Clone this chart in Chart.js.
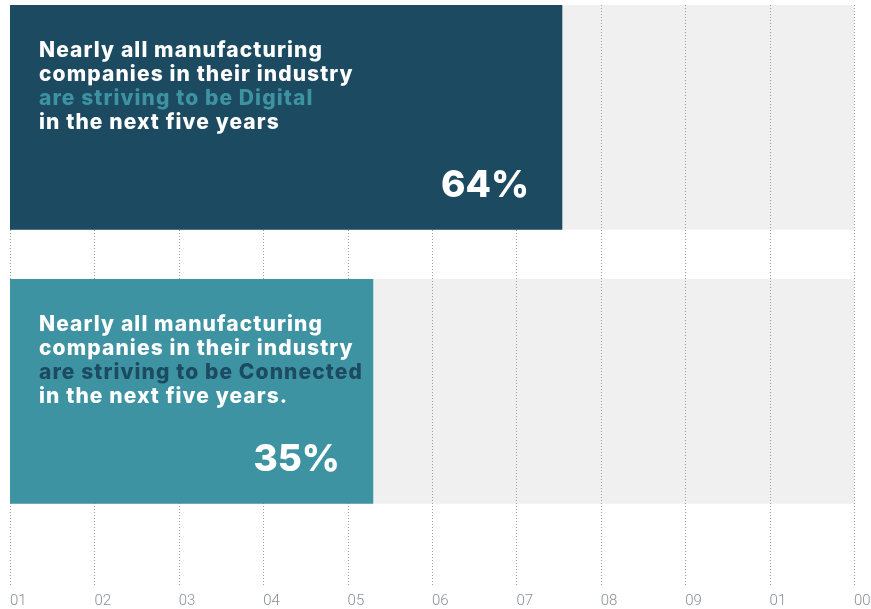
<!DOCTYPE html>
<html>
<head>
<meta charset="utf-8">
<script src="https://cdn.jsdelivr.net/npm/chart.js@4"></script>
<style>
  html, body { margin: 0; padding: 0; background: #ffffff; }
  #wrap { width: 871px; height: 609px; position: relative; }
</style>
</head>
<body>
<div id="wrap"><canvas id="chart"></canvas></div>
<script>
const categories = ["Digital", "Connected"];
const barValues = [6.54, 4.3];
const trackValues = [10, 10];
const percentLabels = ["64%", "35%"];
const tickLabels = ["01", "02", "03", "04", "05", "06", "07", "08", "09", "01", "00"];

const captionLines = [
    ["Nearly all manufacturing", "companies in their industry", "are striving to be Digital", "in the next five years"],
    ["Nearly all manufacturing", "companies in their industry", "are striving to be Connected", "in the next five years."],
];
const highlightLine = 2;

const BAR_COLORS = ["#1b4a61", "#3e93a3"];
const HIGHLIGHT_COLORS = ["#3e93a3", "#1b4a61"];
const TRACK_COLOR = "#f0f0f0";
const GRID_COLOR = "#9c9c9c";
const TEXT_FONT = "Inter";

// dotted grid goes over the grey track but under the coloured bars
const gridLayer = {
    id: "gridLayer",
    afterDatasetDraw(chart, args) {
        if (args.index !== 1) {
            return;
        }
        const { ctx, chartArea, scales } = chart;
        const xScale = scales.x;
        ctx.save();
        ctx.strokeStyle = GRID_COLOR;
        ctx.lineWidth = 1;
        ctx.setLineDash([1, 2]);
        xScale.ticks.forEach((tick, i) => {
            const px = Math.round(xScale.getPixelForTick(i)) + 0.5;
            ctx.beginPath();
            ctx.moveTo(px, chartArea.top);
            ctx.lineTo(px, chartArea.bottom);
            ctx.stroke();
        });
        ctx.restore();
    },
};

const barText = {
    id: "barText",
    afterDatasetsDraw(chart) {
        const { ctx } = chart;
        const meta = chart.getDatasetMeta(0);
        meta.data.forEach((bar, i) => {
            const top = bar.y - bar.height / 2;
            const left = Math.min(bar.base, bar.x);
            const right = Math.max(bar.base, bar.x);

            ctx.save();
            ctx.textAlign = "left";
            ctx.textBaseline = "alphabetic";
            ctx.font = `800 21px ${TEXT_FONT}`;
            ctx.letterSpacing = "1.1px";
            captionLines[i].forEach((line, j) => {
                ctx.fillStyle = j === highlightLine ? HIGHLIGHT_COLORS[i] : "#ffffff";
                ctx.fillText(line, left + 29, top + 52 + j * 24);
            });

            ctx.font = `800 37px ${TEXT_FONT}`;
            ctx.letterSpacing = "0px";
            ctx.fillStyle = "#ffffff";
            ctx.textAlign = "right";
            ctx.fillText(percentLabels[i], right - 33, top + 192);
            ctx.restore();
        });
    },
};

new Chart(document.getElementById("chart"), {
    type: "bar",
    data: {
        datasets: [
            {
                label: "Share",
                data: categories.map((c, i) => ({ x: barValues[i], y: i })),
                backgroundColor: BAR_COLORS,
                borderWidth: 0,
                grouped: false,
                barThickness: 224,
                order: 0,
            },
            {
                label: "Track",
                data: categories.map((c, i) => ({ x: trackValues[i], y: i })),
                backgroundColor: TRACK_COLOR,
                borderWidth: 0,
                grouped: false,
                barThickness: 224,
                order: 1,
            },
        ],
    },
    options: {
        indexAxis: "y",
        responsive: true,
        maintainAspectRatio: false,
        animation: false,
        layout: { padding: { left: 10, right: 17, top: 5, bottom: 0 } },
        plugins: {
            legend: { display: false },
            tooltip: { enabled: false },
        },
        scales: {
            x: {
                type: "linear",
                min: 0,
                max: 10,
                grid: { display: false, drawTicks: false },
                border: { display: false },
                afterFit: (scale) => {
                    scale.paddingLeft = 0;
                    scale.paddingRight = 0;
                    scale.height = 23;
                },
                ticks: {
                    stepSize: 1,
                    align: "start",
                    padding: 6,
                    color: "#8a8f96",
                    font: { family: "Roboto", size: 15, weight: "300" },
                    callback: (value) => tickLabels[value] ?? "",
                },
            },
            y: {
                type: "linear",
                reverse: true,
                offset: false,
                min: -0.41,
                max: 1.71,
                display: false,
            },
        },
    },
    plugins: [gridLayer, barText],
});
</script>
</body>
</html>
